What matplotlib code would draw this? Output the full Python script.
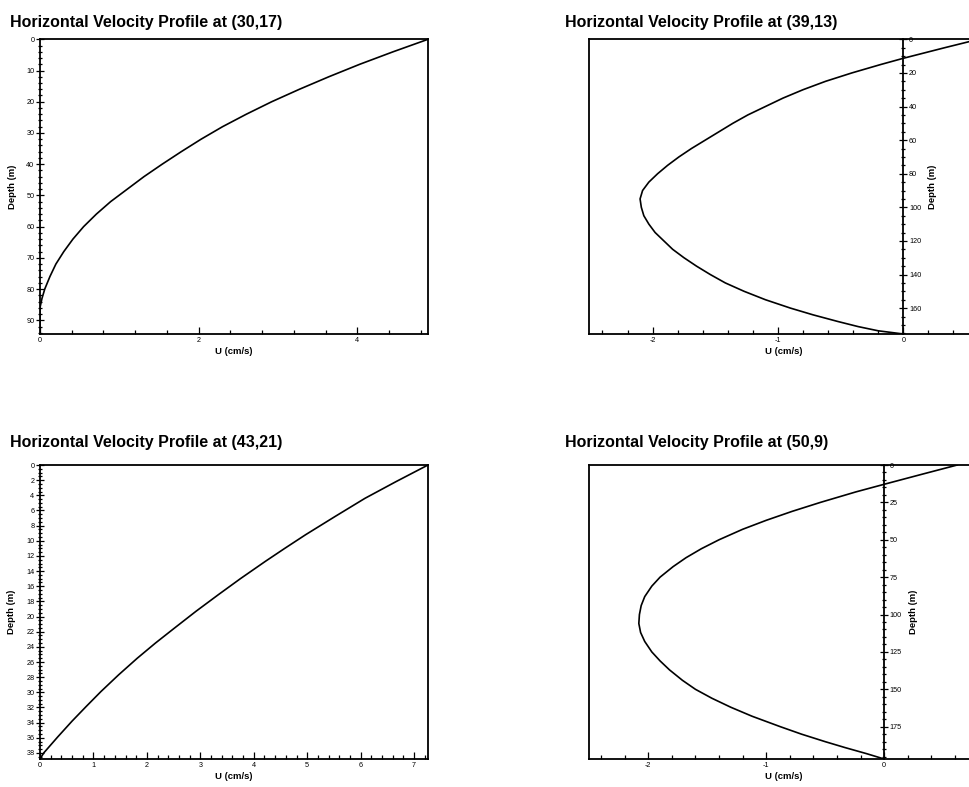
import matplotlib
matplotlib.use('Agg')
import matplotlib.pyplot as plt
from matplotlib.ticker import MultipleLocator

plt.rcParams['font.family'] = ['Liberation Sans', 'DejaVu Sans']
plt.rcParams['axes.unicode_minus'] = False

# Perfil (30,17): profundidad (m) y U (cm/s)
d_30_17 = [0, 4, 8, 12, 16, 20, 24, 28, 32, 36, 40, 44, 48, 52, 56, 60, 64, 68, 72, 76, 80, 83, 85, 86, 94.4]
u_30_17 = [4.89, 4.45, 4.03, 3.64, 3.27, 2.92, 2.60, 2.30, 2.03, 1.78, 1.54, 1.31, 1.10, 0.89,
           0.71, 0.55, 0.415, 0.30, 0.20, 0.125, 0.06, 0.025, 0.008, 0.0, 0.0]

# Perfil (39,13)
d_39_13 = [0, 5, 11.3, 15, 20, 25, 30, 35, 40, 45, 50, 55, 60, 65, 70, 75, 80, 85, 90, 95,
           100, 105, 110, 115, 120, 125, 130, 135, 140, 145, 150, 155, 160, 164, 168, 171, 173.5, 175.4]
u_39_13 = [0.60, 0.33, 0.0, -0.18, -0.41, -0.62, -0.80, -0.96, -1.10, -1.24, -1.36, -1.47, -1.58,
           -1.69, -1.79, -1.88, -1.96, -2.03, -2.08, -2.10, -2.09, -2.07, -2.03, -1.98, -1.91,
           -1.84, -1.75, -1.65, -1.54, -1.42, -1.27, -1.10, -0.90, -0.72, -0.52, -0.36, -0.20, 0.0]

# Perfil (43,21)
d_43_21 = [0, 2.2, 4.4, 6.8, 9.2, 11, 12.7, 15, 17.1, 19.3, 21.5, 23.5, 25.5, 27.7, 29.9,
           31.9, 33.8, 35.9, 38, 38.8]
u_43_21 = [7.26, 6.66, 6.08, 5.52, 4.97, 4.58, 4.22, 3.75, 3.34, 2.92, 2.52, 2.16, 1.82, 1.47,
           1.14, 0.86, 0.60, 0.33, 0.07, 0.0]

# Perfil (50,9)
d_50_9 = [0, 6, 12.9, 18, 25, 31, 37, 43, 50, 56, 62, 68, 75, 81, 88, 94, 100, 106, 112, 118,
          125, 131, 137, 144, 150, 156, 162, 168, 175, 180, 185, 189, 193, 196.6]
u_50_9 = [0.62, 0.33, 0.0, -0.24, -0.54, -0.78, -1.00, -1.20, -1.40, -1.55, -1.68, -1.79, -1.90,
          -1.97, -2.03, -2.06, -2.075, -2.08, -2.065, -2.03, -1.97, -1.90, -1.82, -1.71, -1.60,
          -1.46, -1.30, -1.12, -0.88, -0.70, -0.50, -0.33, -0.15, 0.0]

perfiles = [
    ('Horizontal Velocity Profile at (30,17)', u_30_17, d_30_17, (0, 4.89), (94.4, 0), 2, 0.4, 10, 2, 'left'),
    ('Horizontal Velocity Profile at (39,13)', u_39_13, d_39_13, (-2.505, 0.59), (175.4, 0), 1, 0.2, 20, 5, 'zero'),
    ('Horizontal Velocity Profile at (43,21)', u_43_21, d_43_21, (0, 7.26), (38.8, 0), 1, 0.2, 2, 0.5, 'left'),
    ('Horizontal Velocity Profile at (50,9)', u_50_9, d_50_9, (-2.5, 0.79), (196.6, 0), 1, 0.2, 25, 5, 'zero'),
]

W, H = 970, 787
fig = plt.figure(figsize=(W / 100, H / 100), dpi=100)

# posiciones en pixeles: (izquierda, arriba, abajo)
cajas = [(40, 39.3, 334), (589.3, 39.3, 334), (40, 465, 759), (589.3, 465, 759)]
titulos_y = [22, 22, 442, 442]
titulos_x = [10, 565, 10, 565]

for (titulo, u, d, xl, yl, xmaj, xmin, ymaj, ymin, lado), (px, top, bot), tx, ty in zip(
        perfiles, cajas, titulos_x, titulos_y):
    ax = fig.add_axes([px / W, 1 - bot / H, 388 / W, (bot - top) / H])
    ax.plot(u, d, color='black', lw=1.2)
    ax.set_xlim(*xl)
    ax.set_ylim(*yl)
    ax.xaxis.set_major_locator(MultipleLocator(xmaj))
    ax.xaxis.set_minor_locator(MultipleLocator(xmin))
    ax.yaxis.set_major_locator(MultipleLocator(ymaj))
    ax.yaxis.set_minor_locator(MultipleLocator(ymin))
    for s in ax.spines.values():
        s.set_linewidth(1.3)
    ax.tick_params(axis='x', which='both', direction='in', labelsize=5.2, pad=2, width=0.9)
    ax.tick_params(axis='x', which='major', length=5)
    ax.tick_params(axis='x', which='minor', length=3)
    ax.tick_params(axis='y', which='both', direction='inout', labelsize=5.2, pad=1, width=0.9)
    ax.tick_params(axis='y', which='major', length=6)
    ax.tick_params(axis='y', which='minor', length=3.5)
    if lado == 'zero':
        # eje vertical sobre U = 0
        ax.spines['right'].set_position(('data', 0))
        ax.yaxis.tick_right()
        ax.yaxis.set_label_position('right')
        ax.set_ylabel('Depth (m)', fontsize=6.8, fontweight='bold', labelpad=5)
    else:
        ax.set_ylabel('Depth (m)', fontsize=6.8, fontweight='bold', labelpad=7)
    ax.set_xlabel('U (cm/s)', fontsize=6.8, fontweight='bold', labelpad=2)
    fig.text(tx / W, 1 - ty / H, titulo, fontsize=11.5, fontweight='bold', va='center', ha='left')

fig.savefig('out.png', dpi=100)
